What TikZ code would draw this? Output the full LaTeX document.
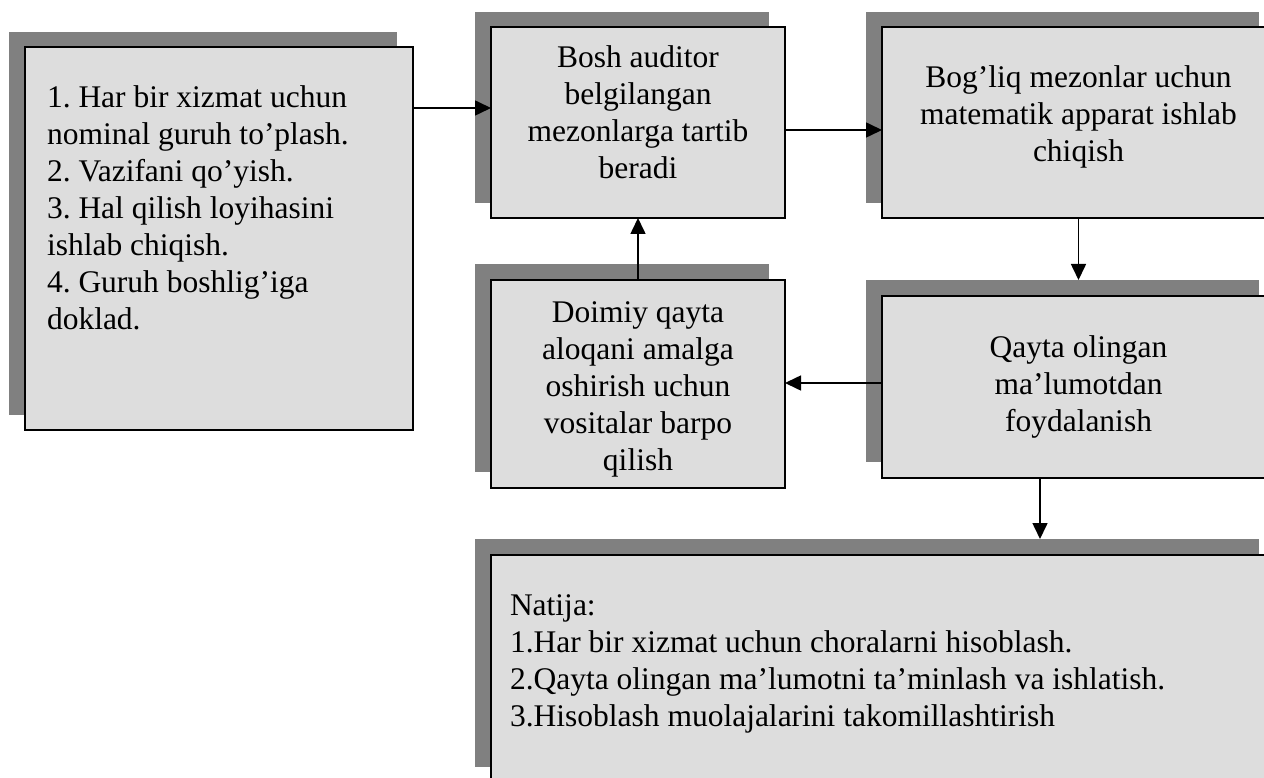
\documentclass[tikz,border=0pt]{standalone}
\usepackage{fontspec}
\setmainfont{Liberation Serif}
\usetikzlibrary{arrows.meta}
\definecolor{boxfill}{HTML}{DDDDDD}
\definecolor{shadefill}{HTML}{808080}
% strut that fixes the height of the first text line
\newcommand\firstlinestrut{\rule{0pt}{25pt}}
\begin{document}
\frenchspacing
\begin{tikzpicture}[x=1pt,y=-1pt,
  panel/.style={draw=black, line width=2pt, fill=boxfill, anchor=north west,
                inner sep=0pt, outer sep=0pt},
  shade/.style={fill=shadefill, draw=none, anchor=north west,
                inner sep=0pt, outer sep=0pt},
  boxtext/.style={inner sep=0pt, outer sep=0pt,
                  font=\fontsize{31.5}{37}\selectfont},
  link/.style={line width=1.6pt, -{Triangle[length=16pt,width=15pt]}}
]
\useasboundingbox (0,0) rectangle (1264,778);
\clip (0,0) rectangle (1264,778);

% shadows (offset up and to the left)
\node[shade, minimum width=388pt, minimum height=383pt] (s1) at (9,32) {};
\node[shade, minimum width=294pt, minimum height=191pt] (s2) at (475,12) {};
\node[shade, minimum width=393pt, minimum height=191pt] (s3) at (866,12) {};
\node[shade, minimum width=294pt, minimum height=208pt] (s4) at (475,264) {};
\node[shade, minimum width=393pt, minimum height=182pt] (s5) at (866,280) {};
\node[shade, minimum width=784pt, minimum height=228pt] (s6) at (475,539) {};

% boxes
\node[panel, minimum width=388pt, minimum height=383pt] (b1) at (25,47) {};
\node[panel, minimum width=294pt, minimum height=191pt] (b2) at (491,27) {};
\node[panel, minimum width=393pt, minimum height=191pt] (b3) at (882,27) {};
\node[panel, minimum width=294pt, minimum height=208pt] (b4) at (491,280) {};
\node[panel, minimum width=393pt, minimum height=182pt] (b5) at (882,296) {};
\node[panel, minimum width=784pt, minimum height=228pt] (b6) at (491,555) {};

% texts
\node[boxtext, anchor=north west, align=left] (t1) at (47,82)
  {\firstlinestrut 1. Har bir xizmat uchun\\nominal guruh to’plash.\\2. Vazifani qo’yish.\\3. Hal qilish loyihasini\\ishlab chiqish.\\4. Guruh boshlig’iga\\doklad.};
\node[boxtext, anchor=north, align=center] (t2) at (638,43)
  {\firstlinestrut Bosh auditor\\belgilangan\\mezonlarga tartib\\beradi};
\node[boxtext, anchor=north, align=center] (t3) at (1078.5,63)
  {\firstlinestrut Bog’liq mezonlar uchun\\matematik apparat ishlab\\chiqish};
\node[boxtext, anchor=north, align=center] (t4) at (638,297)
  {\firstlinestrut Doimiy qayta\\aloqani amalga\\oshirish uchun\\vositalar barpo\\qilish};
\node[boxtext, anchor=north, align=center] (t5) at (1078.5,332)
  {\firstlinestrut Qayta olingan\\ma’lumotdan\\foydalanish};
\node[boxtext, anchor=north west, align=left] (t6) at (510,590)
  {\firstlinestrut Natija:\\1.Har bir xizmat uchun choralarni hisoblash.\\2.Qayta olingan ma’lumotni ta’minlash va ishlatish.\\3.Hisoblash muolajalarini takomillashtirish};

% connectors
\draw[link] ([yshift=14.5pt]b2.west -| b1.east) -- ([yshift=14.5pt]b2.west);
\draw[link] ([yshift=-7.5pt]b2.east) -- ([yshift=-7.5pt]b3.west);
\draw[link] (b3.south) -- (b3.south |- s5.north);
\draw[link] ([yshift=4pt]b5.west) -- ([yshift=4pt]b5.west -| b4.east);
\draw[link] (b4.north) -- (b2.south);
\draw[link] ([xshift=-38.5pt]b5.south) -- ([xshift=-38.5pt]b5.south |- s6.north);
\end{tikzpicture}
\end{document}
